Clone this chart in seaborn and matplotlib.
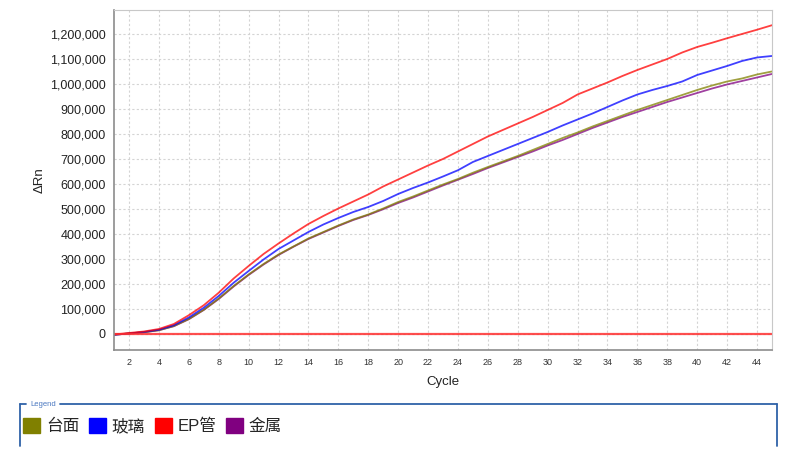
import numpy as np
import pandas as pd
import matplotlib
matplotlib.use("Agg")
import matplotlib.pyplot as plt
from matplotlib.patches import Patch
from matplotlib.lines import Line2D
from matplotlib.ticker import FuncFormatter
import seaborn as sns

# amplification curves (delta Rn per cycle)
cycles = list(range(1, 46))
taimian = [-3, 2, 7, 15, 32, 60, 97, 142, 192, 238, 280, 318, 350, 382, 408,
           434, 458, 478, 502, 528, 550, 574, 598, 620, 645, 668, 690, 712, 736, 760,
           784, 806, 830, 852, 874, 896, 916, 936, 956, 976, 994, 1010, 1022, 1038, 1050]
boli = [-3, 2, 8, 17, 35, 66, 105, 152, 205, 252, 298, 340, 374, 408, 438,
        464, 488, 508, 532, 560, 584, 606, 630, 655, 688, 712, 736, 760, 784, 808,
        834, 858, 882, 908, 934, 958, 976, 992, 1010, 1036, 1054, 1072, 1092, 1106, 1112]
ep = [-2, 4, 10, 20, 40, 75, 115, 165, 222, 272, 320, 362, 402, 440, 472,
      502, 530, 558, 590, 618, 646, 674, 700, 730, 760, 790, 816, 842, 868, 896,
      924, 958, 982, 1006, 1032, 1056, 1078, 1100, 1126, 1148, 1165, 1183, 1200, 1217, 1235]
jinshu = [-3, 2, 7, 15, 31, 59, 96, 140, 190, 236, 278, 316, 349, 380, 406,
          432, 456, 476, 499, 524, 546, 570, 594, 617, 640, 664, 686, 708, 730, 754,
          776, 800, 824, 846, 868, 888, 908, 928, 946, 964, 982, 998, 1012, 1026, 1040]
threshold = 0

names = ["台面", "玻璃", "EP管", "金属"]
colors = ["#808000", "#0000ff", "#ff0000", "#800080"]

df = pd.DataFrame({
    "Cycle": cycles * 4,
    "dRn": np.array(taimian + boli + ep + jinshu) * 1000,
    "sample": sum([[n] * len(cycles) for n in names], []),
})

sns.set_style("white")
plt.rcParams["font.family"] = ["Liberation Sans", "Noto Sans CJK SC", "DejaVu Sans"]

fig = plt.figure(figsize=(7.93, 4.53), dpi=100)
ax = fig.add_axes([0.1438, 0.2274, 0.8297, 0.7506])

# draw order: metal and bench first so glass/EP end up on top
order = ["金属", "台面", "玻璃", "EP管"]
pal = dict(zip(names, colors))
for n in order:
    sub = df[df["sample"] == n]
    sns.lineplot(data=sub, x="Cycle", y="dRn", color=pal[n], lw=1.3, alpha=0.75,
                 ax=ax, legend=False)
ax.axhline(threshold, color="#ff3030", lw=1.6, alpha=0.85)

ax.set_xlim(1, 45)
ax.set_ylim(-64000, 1296000)
ax.set_xticks(range(2, 45, 2))
ax.set_yticks(range(0, 1200001, 100000))
ax.yaxis.set_major_formatter(FuncFormatter(lambda v, p: f"{int(v):,}"))

ax.grid(True, color="#d4d4d4", ls=(0, (2, 2)), lw=0.8)
for s in ["top", "right"]:
    ax.spines[s].set_color("#c8c8c8")
for s in ["left", "bottom"]:
    ax.spines[s].set_color("#8c8c8c")
    ax.spines[s].set_linewidth(1.2)
ax.tick_params(axis="y", labelsize=9, length=3, color="#8c8c8c", pad=3, labelcolor="#222222")
ax.tick_params(axis="x", labelsize=6.5, length=3, color="#8c8c8c", pad=3, labelcolor="#333333")

ax.set_xlabel("Cycle", fontsize=9.5, color="#222222", labelpad=6)
ax.set_ylabel("ΔRn", fontsize=9.5, color="#222222", labelpad=3)

# legend box with title break in the top line
blue = "#2f62a8"
fig.add_artist(Line2D([20 / 793, 20 / 793], [1 - 404 / 453, 1 - 446 / 453], color=blue, lw=1.3))
fig.add_artist(Line2D([20 / 793, 26 / 793], [1 - 404 / 453] * 2, color=blue, lw=1.3))
fig.add_artist(Line2D([60 / 793, 777 / 793], [1 - 404 / 453] * 2, color=blue, lw=1.3))
fig.add_artist(Line2D([777 / 793, 777 / 793], [1 - 404 / 453, 1 - 446 / 453], color=blue, lw=1.3))
fig.text(30 / 793, 1 - 404 / 453, "Legend", fontsize=5.5, color="#4a78c0", va="center")

handles = [Patch(facecolor=c, edgecolor=c, label=n) for n, c in zip(names, colors)]
fig.legend(handles=handles, loc="center left", bbox_to_anchor=(20 / 793, 1 - 426 / 453),
           ncol=4, frameon=False, fontsize=12, handlelength=1.0, handleheight=1.0,
           handletextpad=0.35, columnspacing=0.6, borderaxespad=0, borderpad=0.2)

fig.savefig("out.png", dpi=100)
